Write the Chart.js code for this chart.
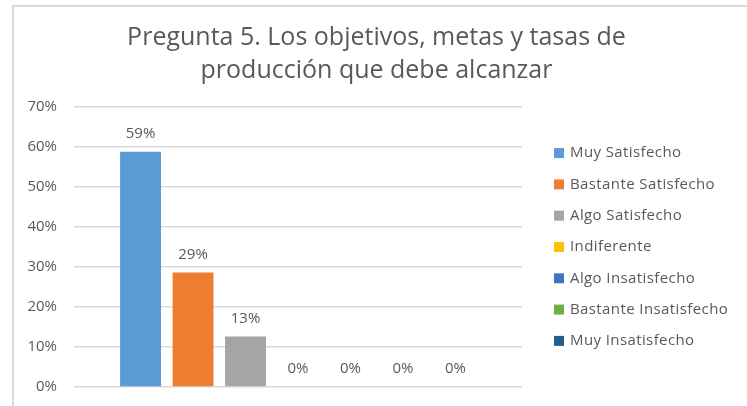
<!DOCTYPE html>
<html>
<head>
<meta charset="utf-8">
<script src="https://cdn.jsdelivr.net/npm/chart.js@4"></script>
<style>
  body { margin: 0; background: #fff; }
  #box {
    position: absolute; left: 12px; top: 5px;
    width: 735px; height: 401px;
    border-left: 2px solid #d9d9d9; border-top: 2px solid #d9d9d9;
    box-sizing: border-box;
  }
</style>
</head>
<body>
<div id="box"><canvas id="myChart" width="733" height="399"></canvas></div>
<script>
const titleLines = ['Pregunta 5. Los objetivos, metas y tasas de', 'producción que debe alcanzar'];
const categories = [''];
const seriesNames = ['Muy Satisfecho', 'Bastante Satisfecho', 'Algo Satisfecho', 'Indiferente',
  'Algo Insatisfecho', 'Bastante Insatisfecho', 'Muy Insatisfecho'];
const seriesValues = [0.588, 0.286, 0.126, 0, 0, 0, 0];
const seriesColors = ['#5B9BD5', '#ED7D31', '#A5A5A5', '#FFC000', '#4472C4', '#70AD47', '#255E91'];
const yMax = 0.7;
const yStep = 0.1;

const textColor = '#595959';
const fontFamily = '"Open Sans", sans-serif';

// value labels above each bar
const barLabels = {
  id: 'barLabels',
  afterDatasetsDraw(chart) {
    const ctx = chart.ctx;
    ctx.save();
    ctx.fillStyle = textColor;
    ctx.font = '15px ' + fontFamily;
    ctx.textAlign = 'center';
    ctx.textBaseline = 'middle';
    chart.data.datasets.forEach((ds, i) => {
      const meta = chart.getDatasetMeta(i);
      meta.data.forEach((bar, j) => {
        ctx.fillText(Math.round(ds.data[j] * 100) + '%', bar.x, bar.y - 18);
      });
    });
    ctx.restore();
  }
};

// legend on the right, drawn from the chart's own legend items
const sideLegend = {
  id: 'sideLegend',
  afterDraw(chart) {
    const ctx = chart.ctx;
    const area = chart.chartArea;
    const items = chart.options.plugins.legend.labels.generateLabels(chart);
    const step = 31.3;
    const x = area.right + 32;
    let y = (area.top + area.bottom) / 2 - step * (items.length - 1) / 2;
    ctx.save();
    ctx.font = '15px ' + fontFamily;
    ctx.letterSpacing = '0.4px';
    ctx.textBaseline = 'middle';
    items.forEach(it => {
      ctx.fillStyle = it.fillStyle;
      ctx.fillRect(x, y - 5, 10, 10);
      ctx.fillStyle = textColor;
      ctx.fillText(it.text, x + 16, y);
      y += step;
    });
    ctx.restore();
  }
};

const datasets = seriesNames.map((name, i) => ({
  label: name,
  data: [seriesValues[i]],
  backgroundColor: seriesColors[i],
  borderWidth: 0,
  categoryPercentage: 0.82,
  barPercentage: 0.78
}));

const ctx = document.getElementById('myChart').getContext('2d');
const myChart = new Chart(ctx, {
  type: 'bar',
  data: { labels: categories, datasets: datasets },
  plugins: [barLabels, sideLegend],
  options: {
    responsive: false,
    animation: false,
    devicePixelRatio: 1,
    layout: { padding: { left: 0, right: 8, top: 0, bottom: 19 } },
    plugins: {
      title: {
        display: true,
        text: titleLines,
        color: textColor,
        font: { family: fontFamily, size: 25, weight: 'normal', lineHeight: 1.3 },
        padding: { top: 15, bottom: 20 }
      },
      legend: { display: false },
      tooltip: { enabled: false }
    },
    scales: {
      x: {
        grid: { display: false, drawTicks: false },
        border: { display: false },
        ticks: { display: false }
      },
      y: {
        min: 0,
        max: yMax,
        ticks: {
          stepSize: yStep,
          color: textColor,
          font: { family: fontFamily, size: 15 },
          padding: 17,
          callback: v => Math.round(v * 100) + '%'
        },
        grid: { color: '#d9d9d9', lineWidth: 1.5, drawTicks: false },
        border: { display: false },
        afterFit: scale => {
          scale.width = 60;
          scale.paddingTop = 0;
          scale.paddingBottom = 0;
        }
      },
      // empty space kept free for the legend
      legendSpace: {
        type: 'linear',
        position: 'right',
        grid: { display: false },
        border: { display: false },
        ticks: { display: false },
        afterFit: scale => { scale.width = 217; }
      }
    }
  }
});
</script>
</body>
</html>
